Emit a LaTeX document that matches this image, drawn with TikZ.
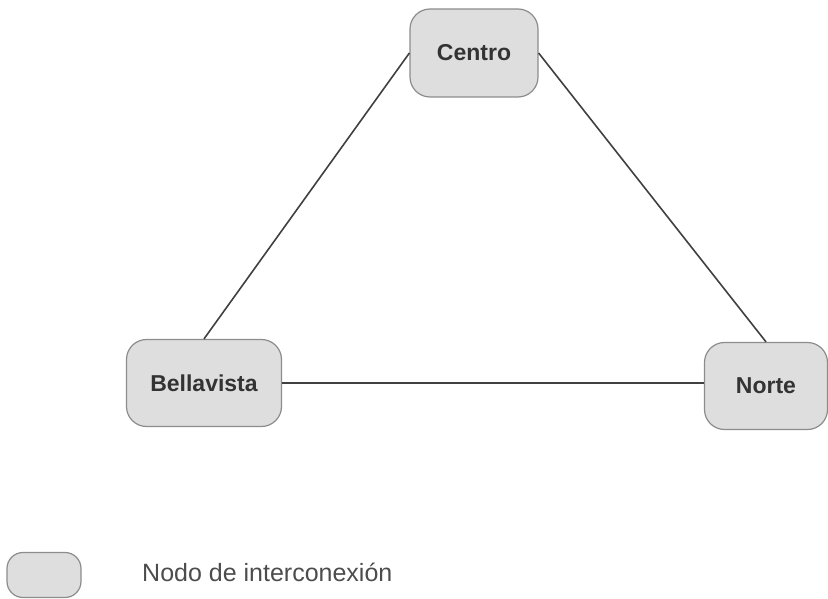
\documentclass[tikz,border=0pt]{standalone}
\usepackage{fontspec}
\setmainfont{Liberation Sans}
\begin{document}
\begin{tikzpicture}[x=1pt,y=-1pt,
  netnode/.style={draw=black!45, line width=1.2pt, fill=black!13, rounded corners=20pt,
    inner sep=0pt, font=\fontsize{23}{25}\selectfont\bfseries, text=black!80},
  link/.style={draw=black!75, line width=1.6pt}]
\useasboundingbox (0,0) rectangle (828,599);
\node[netnode, minimum width=128pt, minimum height=88pt] (centro) at (474,53) {Centro};
\node[netnode, minimum width=155pt, minimum height=87pt] (bella) at (204,383) {Bellavista};
\node[netnode, minimum width=123pt, minimum height=87pt] (norte) at (766,386) {Norte};
\draw[link] (centro.west) -- (bella.north);
\draw[link] (centro.east) -- (norte.north);
\draw[link] (bella.east) -- (bella.east -| norte.west);
\node[netnode, rounded corners=16pt, minimum width=74pt, minimum height=45pt] (legbox) at (44,575) {};
\node[anchor=west, inner sep=0pt, font=\fontsize{25}{27}\selectfont, text=black!70] (legtext) at (142,572) {Nodo de interconexión};
\end{tikzpicture}
\end{document}
